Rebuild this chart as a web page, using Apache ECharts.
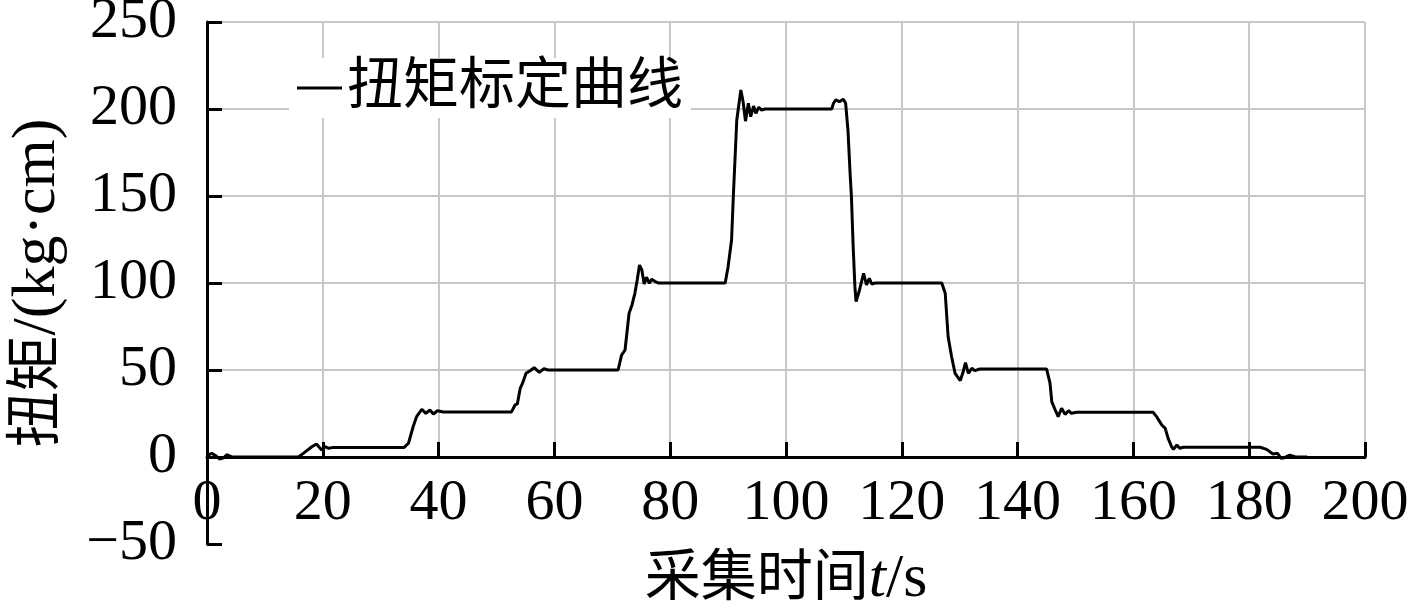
<!DOCTYPE html>
<html>
<head>
<meta charset="utf-8">
<script src="https://cdn.jsdelivr.net/npm/echarts@6/dist/echarts.min.js"></script>
<style>
  html, body { margin: 0; padding: 0; background: #ffffff; }
  #chart { width: 1417px; height: 609px; }
</style>
</head>
<body>
<div id="chart"></div>
<script>
// 采集时间 (s)
const timeData = [
  0.0, 0.8, 1.6, 2.2, 2.9, 3.4, 4.3, 15.8, 16.8, 18.1, 18.9, 19.8, 20.4, 21.0, 21.6,
  34.0, 34.8, 35.6, 36.2, 37.1, 37.8, 38.5, 39.1, 39.8, 40.8,
  52.6, 53.2, 53.6, 54.1, 54.5, 55.1, 55.8, 56.5, 57.4, 58.2, 58.9,
  71.0, 71.6, 72.2, 72.9, 73.4, 73.9, 74.3, 74.7, 75.1, 75.5, 75.9, 76.4, 76.8, 77.4, 78.0,
  89.5, 90.0, 90.6, 90.9, 91.5, 92.2, 92.6, 93.0, 93.5, 93.9, 94.4, 94.8, 95.3, 95.8, 96.4,
  107.9, 108.2, 108.6, 109.2, 109.9, 110.3, 110.7, 111.1, 111.3, 111.6, 111.9, 112.1, 112.7,
  113.4, 113.9, 114.4, 114.8, 115.4,
  126.9, 127.5, 128.0, 128.6, 129.2, 130.1, 130.6, 131.0, 131.5, 132.1, 132.6, 133.5,
  145.0, 145.6, 145.9, 146.5, 147.0, 147.6, 148.2, 148.8, 149.3, 150.2,
  163.4, 164.0, 164.9, 165.5, 166.0, 166.6, 166.9, 167.5, 168.0, 168.6,
  181.9, 183.0, 184.1, 184.9, 185.5, 186.1, 187.0, 187.9, 190.0
]
// 扭矩 (kg·cm)
const torqueData = [
  0.6, 2.2, 0.5, -1.2, -0.5, 1.3, 0, 0, 2.5, 5.9, 7.5, 4.0, 5.9, 5.0, 5.4,
  5.4, 7.9, 17.4, 23.2, 27.4, 25.1, 27.0, 24.7, 26.6, 25.9,
  25.9, 29.9, 30.5, 39.5, 42.4, 48.1, 49.6, 51.3, 48.7, 50.7, 50.0,
  50.0, 58.6, 61.5, 82.6, 87.4, 94.1, 101.7, 110.3, 107.5, 99.4, 103.3, 99.8, 102.1, 100.8, 100,
  100, 109.4, 124.7, 149.6, 193.7, 210.9, 204, 193, 203.3, 195.6, 201.7, 197.5, 201, 199.4, 200,
  200, 203.3, 205.2, 204.2, 205.6, 203.3, 187.9, 161.1, 149.6, 120.9, 97.9, 89.3, 96.0,
  105.6, 98.9, 102.7, 99.4, 100,
  100, 94.1, 69.1, 57.6, 48.1, 43.9, 49.0, 54.2, 48.1, 51.0, 49.6, 50.6,
  50.6, 42.4, 31.8, 27.0, 23.2, 28.0, 24.5, 26.6, 25.1, 25.7,
  25.7, 23.2, 18.4, 16.5, 10.7, 5.9, 4.4, 6.9, 5.0, 5.6,
  5.6, 4.4, 1.7, 2.1, -0.8, -0.4, 1.1, 0.2, 0
]
const seriesName = '扭矩标定曲线'
const xNameCn = '采集时间'
const yNameCn = '扭矩'
const yNameUnit = '/(kg·cm)'

const fontFamily = "'Liberation Serif', 'Noto Sans CJK SC', serif"
const gridColor = '#c8c8c8'

const chartInstance = echarts.init(document.getElementById('chart'))

const option = {
  backgroundColor: '#ffffff',
  animation: false,
  grid: [
    { left: 207, right: 52, top: 22, bottom: 65, outerBoundsMode: 'none', containLabel: false },
    // 只画0以上的竖向网格线
    { left: 207, right: 52, top: 22, bottom: 152, outerBoundsMode: 'none', containLabel: false }
  ],
  legend: {
    data: [seriesName],
    left: 289,
    top: 58,
    icon: 'rect',
    itemWidth: 45,
    itemHeight: 3,
    padding: [2, 8],
    backgroundColor: '#ffffff',
    itemStyle: { color: '#000000' },
    textStyle: { color: '#000000', fontSize: 56, fontFamily: fontFamily }
  },
  xAxis: [
    {
      type: 'value',
      gridIndex: 0,
      min: 0,
      max: 200,
      interval: 20,
      position: 'bottom',
      offset: -87, // 横轴放在 y=0 处
      name: '{c|' + xNameCn + '}{i|t}{l|/s}',
      nameLocation: 'middle',
      nameGap: 92,
      nameTextStyle: {
        color: '#000000',
        fontSize: 56,
        fontFamily: fontFamily,
        rich: {
          c: { fontSize: 56, fontFamily: fontFamily, color: '#000000' },
          i: { fontSize: 62, fontStyle: 'italic', fontFamily: fontFamily, color: '#000000' },
          l: { fontSize: 62, fontFamily: fontFamily, color: '#000000' }
        }
      },
      axisLine: { onZero: false, lineStyle: { color: '#000000', width: 3 } },
      axisTick: { inside: true, length: 15, lineStyle: { color: '#000000', width: 3 } },
      axisLabel: { color: '#000000', fontSize: 58, fontFamily: fontFamily, margin: 18 },
      splitLine: { show: false }
    },
    {
      type: 'value',
      gridIndex: 1,
      min: 0,
      max: 200,
      interval: 20,
      axisLine: { show: false },
      axisTick: { show: false },
      axisLabel: { show: false },
      splitLine: { show: true, lineStyle: { color: gridColor, width: 2 } }
    }
  ],
  yAxis: [
    {
      type: 'value',
      gridIndex: 0,
      min: -50,
      max: 250,
      interval: 50,
      name: '{c|' + yNameCn + '}{l|' + yNameUnit + '}',
      nameLocation: 'middle',
      nameGap: 138,
      nameTextStyle: {
        color: '#000000',
        fontSize: 56,
        fontFamily: fontFamily,
        rich: {
          c: { fontSize: 56, fontFamily: fontFamily, color: '#000000' },
          l: { fontSize: 62, fontFamily: fontFamily, color: '#000000' }
        }
      },
      axisLine: { show: true, onZero: false, lineStyle: { color: '#000000', width: 3 } },
      axisTick: { show: true, inside: true, length: 15, lineStyle: { color: '#000000', width: 3 } },
      axisLabel: {
        color: '#000000',
        fontSize: 58,
        fontFamily: fontFamily,
        margin: 30,
        padding: [10, 0, 0, 0],
        // 负号用长横
        formatter: function (v) {
          return String(v).replace('-', '\u2212')
        }
      },
      splitLine: {
        show: true,
        lineStyle: {
          // -50处不画横线
          color: ['rgba(0,0,0,0)', gridColor, gridColor, gridColor, gridColor, gridColor, gridColor],
          width: 2
        }
      }
    },
    {
      type: 'value',
      gridIndex: 1,
      min: 0,
      max: 250,
      show: false
    }
  ],
  series: [
    {
      name: seriesName,
      type: 'line',
      xAxisIndex: 0,
      yAxisIndex: 0,
      symbol: 'none',
      smooth: false,
      z: 5,
      lineStyle: { color: '#000000', width: 3 },
      itemStyle: { color: '#000000' },
      data: timeData.map((t, i) => [t, torqueData[i]])
    }
  ]
}

chartInstance.setOption(option)
</script>
</body>
</html>
